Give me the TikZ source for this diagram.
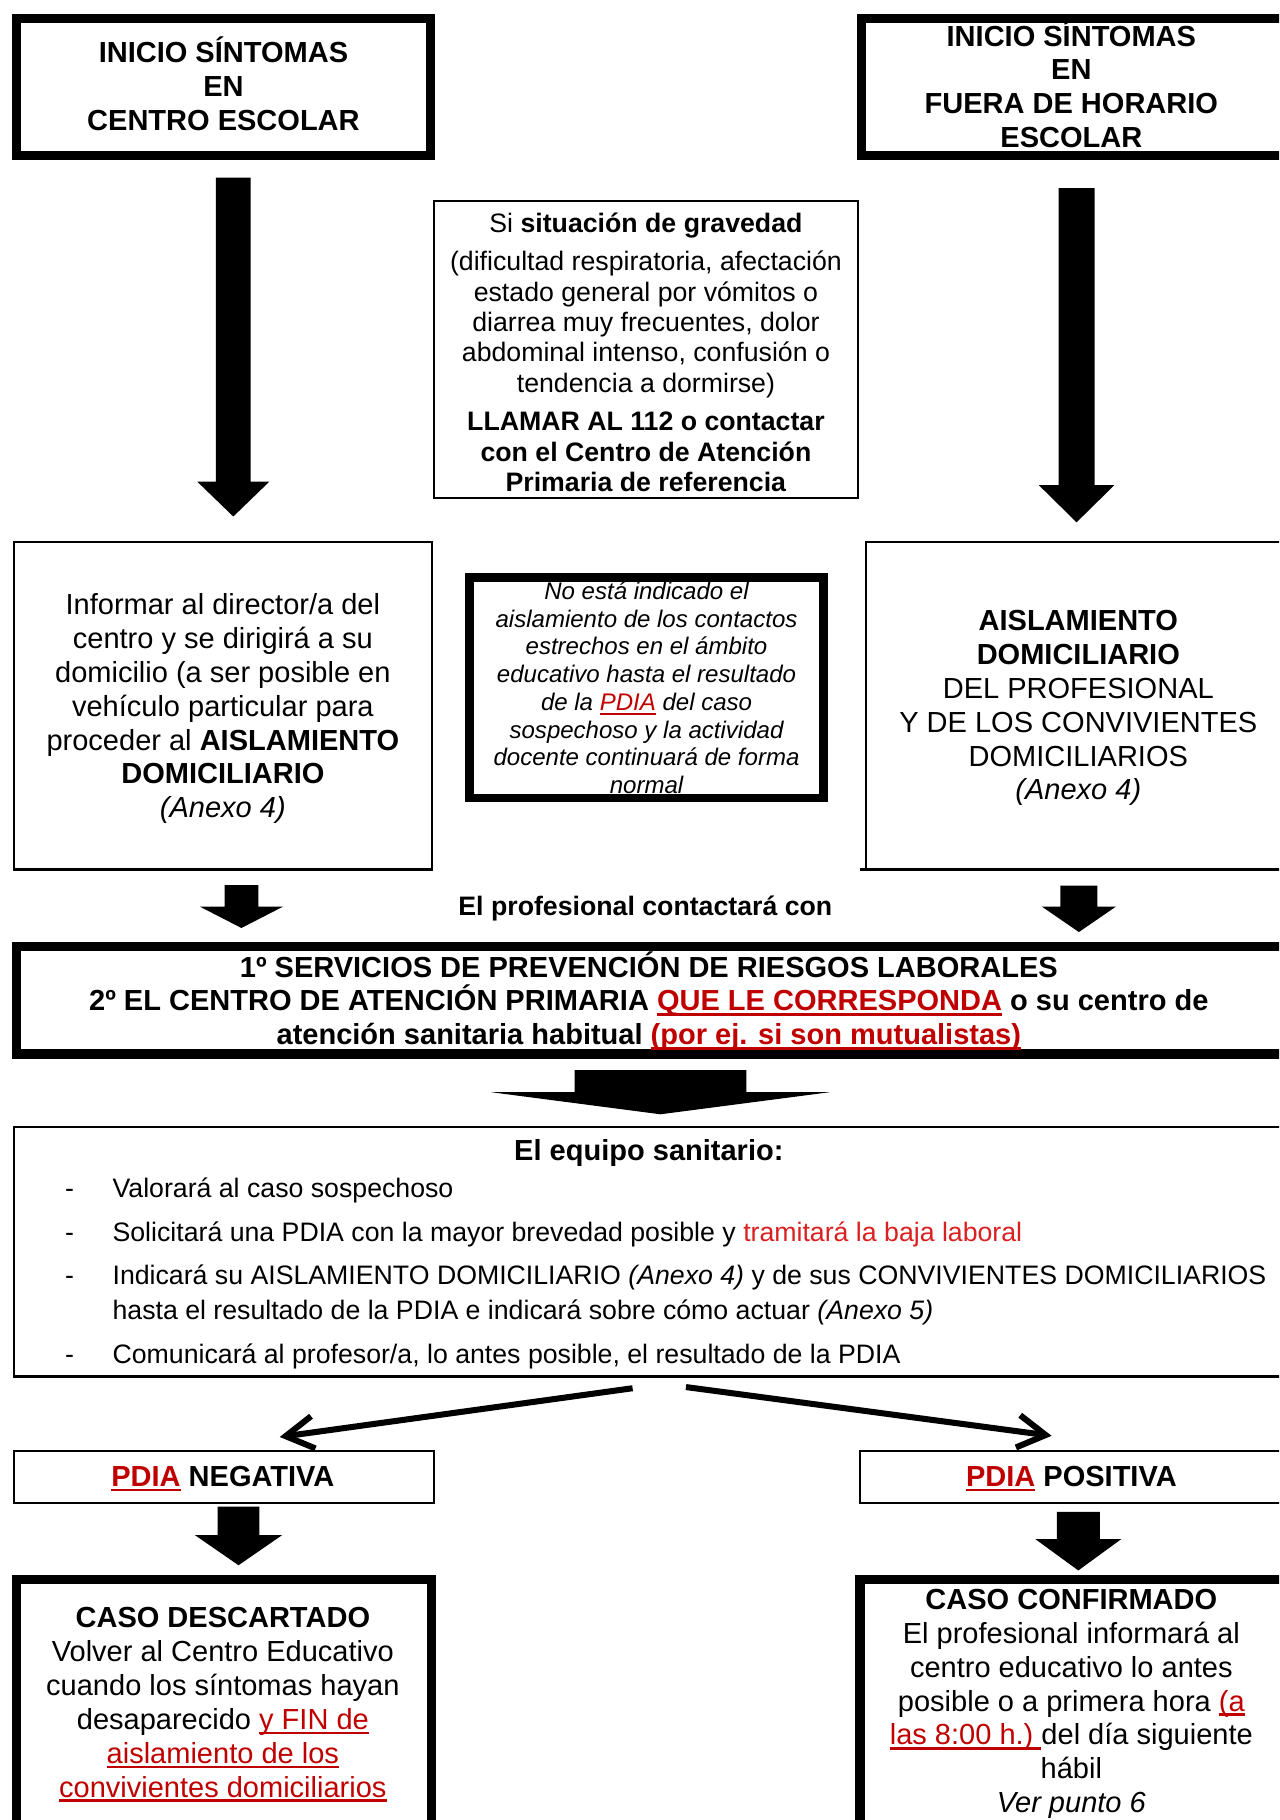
\documentclass[tikz,border=0pt]{standalone}
\usepackage{fontspec}
\setmainfont{Liberation Sans}
\usetikzlibrary{arrows.meta}
\definecolor{pdred}{HTML}{C00000}
\definecolor{tram}{HTML}{DA2020}
\newcommand{\rul}[1]{{\color{pdred}\setbox0\hbox{#1}\rlap{\rule[-2pt]{\wd0}{1pt}}\box0}}
\newcommand{\blockarr}[6]{\fill[black] (#1-#3,#2) -- (#1+#3,#2) -- (#1+#3,#4) -- (#1+#5,#4) -- (#1,#6) -- (#1-#5,#4) -- (#1-#3,#4) -- cycle;}
\begin{document}
\begin{tikzpicture}[x=0.5pt,y=-0.5pt,
  every node/.style={inner sep=0pt, outer sep=0pt, align=center},
  thickbox/.style={draw, line width=4pt, rectangle},
  medbox/.style={draw, line width=3.5pt, rectangle},
  thinbox/.style={draw, line width=1.1pt, rectangle},
  Fbig/.style={font=\fontsize{12.5}{14.6}\selectfont},
  Fbigb/.style={font=\fontsize{12.5}{14.6}\selectfont\bfseries},
  Fmid/.style={font=\fontsize{11.5}{13.1}\selectfont},
  Fsm/.style={font=\fontsize{10.35}{11.93}\selectfont\itshape},
  diag/.style={line width=2.6pt, -{Straight Barb[length=12pt,width=14pt]}}]
\useasboundingbox (0,0) rectangle (1102,1568);
\fill[white] (0,0) rectangle (1102,1568);
\clip (0,0) rectangle (1102,1568);

% top boxes
\node[thickbox, minimum width=178.5pt, minimum height=59pt] (bA) at (192.5,75) {};
\node[Fbigb] (tA) at (192.5,72.5) {INICIO SÍNTOMAS\\EN\\CENTRO ESCOLAR};
\node[thickbox, minimum width=185pt, minimum height=59pt] (bB) at (927,75) {};
\node[Fbigb] (tB) at (923,72.5) {INICIO SÍNTOMAS\\EN\\FUERA DE HORARIO\\ESCOLAR};

% gravity box
\node[thinbox, minimum width=182.5pt, minimum height=128pt] (bG) at (556.5,301) {};
\node[Fmid] (tG) at (556.5,303.5)
  {Si \textbf{situación de gravedad}\\[3.4pt]
   (dificultad respiratoria, afectación\\
   estado general por vómitos o\\
   diarrea muy frecuentes, dolor\\
   abdominal intenso, confusión o\\
   tendencia a dormirse)\\[3.4pt]
   \textbf{LLAMAR AL 112 o contactar}\\
   \textbf{con el Centro de Atención}\\
   \textbf{Primaria de referencia}};

% big arrows
\blockarr{201}{153}{15}{415}{31}{445}
\blockarr{927.5}{162}{15.5}{418}{32.5}{450}

% middle row
\node[thinbox, minimum width=180pt, minimum height=141pt] (bI) at (192,608) {};
\node[Fbig] (tI) at (192,610.5)
  {Informar al director/a del\\
   centro y se dirigirá a su\\
   domicilio (a ser posible en\\
   vehículo particular para\\
   proceder al \textbf{AISLAMIENTO}\\
   \textbf{DOMICILIARIO}\\
   \textit{(Anexo 4)}};
\node[medbox, Fsm, minimum width=152.5pt, minimum height=95pt] (bN) at (557,592.5)
  {No está indicado el\\
   aislamiento de los contactos\\
   estrechos en el ámbito\\
   educativo hasta el resultado\\
   de la \rul{PDIA} del caso\\
   sospechoso y la actividad\\
   docente continuará de forma\\
   normal};
\node[thinbox, minimum width=184.5pt, minimum height=141pt] (bS) at (930.5,608) {};
\draw[line width=1.1pt] (741,749) -- (bS.south west);
\node[Fbig] (tS) at (929,610)
  {\textbf{AISLAMIENTO}\\
   \textbf{DOMICILIARIO}\\
   DEL PROFESIONAL\\
   Y DE LOS CONVIVIENTES\\
   DOMICILIARIOS\\
   \textit{(Anexo 4)}};

% small arrows + label
\blockarr{208}{762.5}{14.5}{781}{36}{799.5}
\blockarr{929.5}{763}{16}{781}{32}{803}
\node[font=\fontsize{11.5}{13.1}\selectfont\bfseries] (tP) at (556,783) {El profesional contactará con};

% box C
\node[thickbox, minimum width=548pt, minimum height=46.2pt] (bC) at (562,861.8) {};
\node[Fbigb] (tC) at (559,862.5)
  {1º SERVICIOS DE PREVENCIÓN DE RIESGOS LABORALES\\
   2º EL CENTRO DE ATENCIÓN PRIMARIA \rul{QUE LE CORRESPONDA} o su centro de\\
   atención sanitaria habitual \rul{(por ej. si son mutualistas)}};

% flat arrow
\blockarr{569}{922}{74}{941}{145.5}{960}

% box D
\node[thinbox, minimum width=551.5pt, minimum height=107.5pt] (bD) at (563.5,1078.5) {};
\node[Fbigb] (tD) at (559,993) {El equipo sanitario:};
\node[Fmid, anchor=base] (d1) at (60,1032) {-};
\node[Fmid, anchor=base] (d2) at (60,1070) {-};
\node[Fmid, anchor=base] (d3) at (60,1107) {-};
\node[Fmid, anchor=base] (d5) at (60,1175) {-};
\node[Fmid, anchor=base west] (b1) at (97,1032) {Valorará al caso sospechoso};
\node[Fmid, anchor=base west] (b2) at (97,1070) {Solicitará una PDIA con la mayor brevedad posible y \textcolor{tram}{tramitará la baja laboral}};
\node[Fmid, anchor=base west] (b3) at (97,1107) {Indicará su AISLAMIENTO DOMICILIARIO \textit{(Anexo 4)} y de sus CONVIVIENTES DOMICILIARIOS};
\node[Fmid, anchor=base west] (b4) at (97,1137) {hasta el resultado de la PDIA e indicará sobre cómo actuar \textit{(Anexo 5)}};
\node[Fmid, anchor=base west] (b5) at (97,1175) {Comunicará al profesor/a, lo antes posible, el resultado de la PDIA};

% diagonal arrows
\coordinate (dL0) at (545,1196);
\coordinate (dL1) at (241,1238);
\coordinate (dR0) at (591,1195);
\coordinate (dR1) at (906,1237);
\draw[diag] (dL0) -- (dL1);
\draw[diag] (dR0) -- (dR1);

% PDIA boxes
\node[thinbox, minimum width=181pt, minimum height=22.5pt] (bPN) at (193,1272.5) {};
\node[Fbigb] (tPN) at (192,1274) {\rul{PDIA} NEGATIVA};
\node[thinbox, minimum width=187pt, minimum height=22.5pt] (bPP) at (928,1272.5) {};
\node[Fbigb] (tPP) at (923,1274) {\rul{PDIA} POSITIVA};

\blockarr{205.5}{1298}{18}{1322.6}{37.5}{1348.5}
\blockarr{929}{1302.5}{18.5}{1326}{37}{1353}

% bottom boxes
\node[thickbox, minimum width=179pt, minimum height=119.5pt] (bCD) at (193,1480.5) {};
\node[Fbig] (tCD) at (192,1468.5)
  {\textbf{CASO DESCARTADO}\\
   Volver al Centro Educativo\\
   cuando los síntomas hayan\\
   desaparecido \rul{y FIN de}\\
   \rul{aislamiento de los}\\
   \rul{convivientes domiciliarios}};
\node[thickbox, minimum width=187pt, minimum height=119.5pt] (bCC) at (928,1480.5) {};
\node[Fbig] (tCC) at (923,1468)
  {\textbf{CASO CONFIRMADO}\\
   El profesional informará al\\
   centro educativo lo antes\\
   posible o a primera hora \rul{(a}\\
   \rul{las 8:00 h.)~}del día siguiente\\
   hábil\\
   \textit{Ver punto 6}};
\end{tikzpicture}
\end{document}
